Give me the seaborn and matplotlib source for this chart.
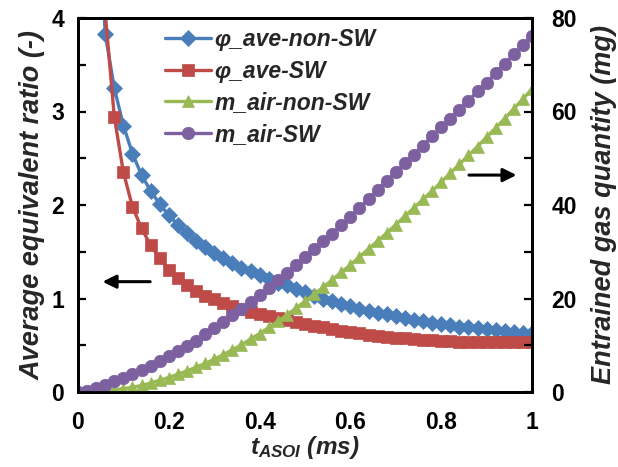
import numpy as np
import pandas as pd
import matplotlib
matplotlib.use("Agg")
import matplotlib.pyplot as plt
import seaborn as sns

# ---------------- data ----------------
t_asoi = [0.00, 0.02, 0.04, 0.06, 0.08, 0.10, 0.12, 0.14, 0.16, 0.18,
          0.20, 0.22, 0.24, 0.26, 0.28, 0.30, 0.32, 0.34, 0.36, 0.38,
          0.40, 0.42, 0.44, 0.46, 0.48, 0.50, 0.52, 0.54, 0.56, 0.58,
          0.60, 0.62, 0.64, 0.66, 0.68, 0.70, 0.72, 0.74, 0.76, 0.78,
          0.80, 0.82, 0.84, 0.86, 0.88, 0.90, 0.92, 0.94, 0.96, 0.98, 1.00]

phi_ave_non_sw = [np.nan, np.nan, 5.60, 3.83, 3.25, 2.85, 2.55, 2.32, 2.15, 2.01,
                  1.89, 1.79, 1.70, 1.62, 1.55, 1.49, 1.43, 1.38, 1.33, 1.29,
                  1.25, 1.21, 1.17, 1.14, 1.10, 1.07, 1.03, 1.00, 0.97, 0.94,
                  0.92, 0.89, 0.87, 0.85, 0.83, 0.81, 0.79, 0.77, 0.76, 0.74,
                  0.73, 0.72, 0.70, 0.69, 0.68, 0.67, 0.66, 0.65, 0.64, 0.63, 0.63]

phi_ave_sw = [np.nan, np.nan, 7.50, 4.05, 2.94, 2.35, 1.98, 1.75, 1.57, 1.43,
              1.31, 1.22, 1.14, 1.08, 1.03, 0.99, 0.95, 0.92, 0.89, 0.86,
              0.83, 0.81, 0.79, 0.77, 0.75, 0.73, 0.71, 0.69, 0.67, 0.65,
              0.64, 0.63, 0.61, 0.60, 0.59, 0.58, 0.58, 0.57, 0.56, 0.56,
              0.55, 0.55, 0.54, 0.54, 0.54, 0.53, 0.53, 0.53, 0.53, 0.53, 0.53]

m_air_non_sw = [0.0, 0.05, 0.15, 0.3, 0.5, 0.7, 1.0, 1.4, 1.9, 2.5,
                3.1, 3.8, 4.5, 5.3, 6.1, 7.0, 8.0, 9.0, 10.1, 11.3,
                12.5, 13.8, 15.1, 16.5, 17.9, 19.4, 20.9, 22.4, 24.0, 25.6,
                27.2, 28.9, 30.6, 32.3, 34.0, 35.8, 37.6, 39.4, 41.2, 43.0,
                44.9, 46.8, 48.7, 50.6, 52.5, 54.5, 56.5, 58.5, 60.6, 62.7, 64.8]

m_air_sw = [0.0, 0.3, 0.9, 1.6, 2.3, 3.0, 3.8, 4.7, 5.6, 6.6,
            7.6, 8.7, 9.8, 11.0, 12.3, 13.6, 15.0, 16.4, 17.8, 19.3,
            20.8, 22.3, 23.9, 25.5, 27.1, 28.8, 30.5, 32.2, 33.9, 35.7,
            37.5, 39.4, 41.3, 43.2, 45.1, 47.0, 48.9, 50.8, 52.7, 54.7,
            56.6, 58.5, 60.4, 62.3, 64.3, 66.2, 68.2, 70.2, 72.2, 74.2, 76.2]

series_labels = ["φ_ave-non-SW", "φ_ave-SW", "m_air-non-SW", "m_air-SW"]
x_ticks = [0, 0.2, 0.4, 0.6, 0.8, 1.0]
x_tick_labels = ["0", "0.2", "0.4", "0.6", "0.8", "1"]
left_ticks = [0, 1, 2, 3, 4]
right_ticks = [0, 20, 40, 60, 80]

# ---------------- style ----------------
sns.set_style("white")
plt.rcParams["font.family"] = ["Liberation Sans", "DejaVu Sans"]
plt.rcParams["mathtext.fontset"] = "custom"
plt.rcParams["mathtext.it"] = "Liberation Sans:italic:bold"
plt.rcParams["mathtext.rm"] = "Liberation Sans:bold"

colors = ["#4A7EBB", "#BE4B48", "#98B954", "#7D60A0"]
markers = ["D", "s", "^", "o"]
msizes = [8, 8, 9, 9]

fig = plt.figure(figsize=(6.18, 4.67), dpi=100)
ax = fig.add_axes([78 / 618, 75 / 467, 454 / 618, 374 / 467])
ax2 = ax.twinx()

df = pd.DataFrame({"t": t_asoi,
                   series_labels[0]: phi_ave_non_sw,
                   series_labels[1]: phi_ave_sw,
                   series_labels[2]: m_air_non_sw,
                   series_labels[3]: m_air_sw})

targets = [ax, ax, ax2, ax2]
for lab, col, mk, ms, a in zip(series_labels, colors, markers, msizes, targets):
    sub = df[["t", lab]].dropna()
    sns.lineplot(data=sub, x="t", y=lab, ax=a, color=col, marker=mk,
                 markersize=ms, markeredgecolor=col, markeredgewidth=0.5,
                 linewidth=2.4, label=lab, legend=False, sort=True,
                 estimator=None)

ax.set_xlim(0, 1)
ax.set_ylim(0, 4)
ax2.set_ylim(0, 80)
ax.set_xticks(x_ticks)
ax.set_xticklabels(x_tick_labels)
ax.set_xticks(np.arange(0, 1.0001, 0.05), minor=True)
ax.set_yticks(left_ticks)
ax.set_yticks(np.arange(0, 4.001, 0.5), minor=True)
ax2.set_yticks(right_ticks)
ax2.set_yticks(np.arange(0, 80.01, 10), minor=True)

for a in (ax, ax2):
    for sp in a.spines.values():
        sp.set_linewidth(2)
        sp.set_color("black")
    a.tick_params(which="both", direction="in", length=6, width=1.6,
                  labelsize=16.5, colors="black")
    for lbl in a.get_xticklabels() + a.get_yticklabels():
        lbl.set_fontweight("bold")

ax.tick_params(axis="x", pad=14)
ax.tick_params(axis="y", pad=10)
ax2.tick_params(axis="y", pad=14)

ax.set_xlabel("$t_{ASOI}$ (ms)", fontsize=17.5, fontweight="bold",
              fontstyle="italic", labelpad=0)
ax.set_ylabel("Average equivalent ratio (-)", fontsize=19.5,
              fontweight="bold", fontstyle="italic", labelpad=4)
ax2.set_ylabel("Entrained gas quantity (mg)", fontsize=19.5,
               fontweight="bold", fontstyle="italic", labelpad=10)

# arrows
ax.annotate("", xy=(0.048, 1.18), xytext=(0.165, 1.18),
            arrowprops=dict(arrowstyle="-|>", color="black", lw=2.2,
                            mutation_scale=20))
ax.annotate("", xy=(0.972, 2.32), xytext=(0.855, 2.32),
            arrowprops=dict(arrowstyle="-|>", color="black", lw=2.2,
                            mutation_scale=20))

# legend combining both axes
h1, l1 = ax.get_legend_handles_labels()
h2, l2 = ax2.get_legend_handles_labels()
leg = ax2.legend(h1 + h2, l1 + l2, loc="upper left",
                 bbox_to_anchor=(165 / 618, 1 - 28 / 467),
                 bbox_transform=fig.transFigure, frameon=False,
                 prop={"weight": "bold", "style": "italic", "size": 16.5},
                 handlelength=2.0, handletextpad=0.15, labelspacing=0.38,
                 borderaxespad=0.0, borderpad=0.0)
leg.set_zorder(10)

fig.savefig("out.png", dpi=100)
